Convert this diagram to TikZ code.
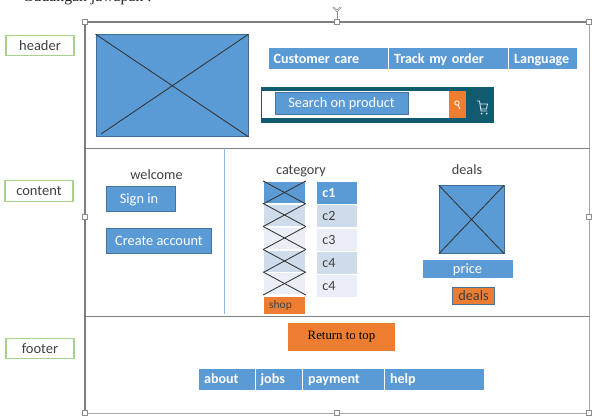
\documentclass[tikz,border=0pt]{standalone}
\usepackage{fontspec}
\setmainfont{Carlito}
\newfontfamily\bodyserif{Liberation Serif}
\usepackage{xcolor}
\usetikzlibrary{positioning}
\definecolor{wireblue}{HTML}{5B9BD5}
\definecolor{wireorange}{HTML}{ED7D31}
\definecolor{wireteal}{HTML}{115A70}
\definecolor{wiregreen}{HTML}{A9D18E}
\definecolor{wirepale}{HTML}{E9EEF7}
\definecolor{wiremid}{HTML}{CFDCEC}
\definecolor{wiregrey}{HTML}{7F7F7F}
\tikzset{
    px/.style={x=0.025cm,y=-0.025cm},
    sidetag/.style={draw=wiregreen,fill=white,line width=0.8pt,minimum width=1.7cm,minimum height=0.52cm,inner sep=0pt,text=black!75,font=\fontsize{10.3}{12}\selectfont},
    navcell/.style={fill=wireblue,draw=white,line width=0.3pt,inner ysep=0pt,inner xsep=0.14cm,outer sep=0pt,text=white,font=\bfseries\fontsize{10}{12}\selectfont,anchor=west,text width=#1,minimum height=0.55cm,text height=9pt,text depth=2.2pt,align=left},
    btn/.style={fill=wireblue,draw=wireblue!75!black,line width=0.4pt,inner sep=0pt,text=white,text height=7pt,text depth=0pt,font=\fontsize{10.2}{12}\selectfont},
    heading/.style={inner sep=0pt,text=black!75,font=\fontsize{10.1}{12}\selectfont},
    picbox/.style={fill=wireblue,draw=wireblue!70!black,line width=0.4pt,inner sep=0pt},
    cross/.style={draw=black!80,line width=0.6pt},
    handle/.style={draw=black!45,fill=white,line width=0.4pt,minimum size=0.13cm,inner sep=0pt},
    catcell/.style={draw=white,line width=0.4pt,inner sep=0pt,minimum width=1.02cm,minimum height=0.57cm,text=black!75,font=\fontsize{10}{12}\selectfont},
    thumb/.style={draw=white,line width=0.4pt,inner sep=0pt,minimum width=1.05cm,minimum height=0.56cm}
}
\begin{document}
\begin{tikzpicture}[px]
    \useasboundingbox (0,0) rectangle (592,415);

    % Page frame and the two separators
    \draw[black!35,line width=0.6pt] (589,22) -- (589,413) -- (85,413);
    \draw[wiregrey,line width=0.8pt] (85,22) -- (589,22);
    \draw[wiregrey,line width=1.2pt] (85,22) -- (85,413);
    \draw[wiregrey,line width=0.7pt] (85,148) -- (589,148);
    \draw[wiregrey,line width=0.9pt] (85,316.5) -- (589,316.5);
    \draw[wireblue!70,line width=0.6pt] (224.5,148) -- (224.5,314);

    % Resize handles and rotate grip
    \node[handle] (hnw) at (85,22) {};
    \node[handle] (hn) at (337,22) {};
    \node[handle] (hne) at (589,22) {};
    \node[handle] (hw) at (85,217) {};
    \node[handle] (he) at (589,217) {};
    \node[handle] (hsw) at (85,413) {};
    \node[handle] (hs) at (337,413) {};
    \node[handle] (hse) at (589,413) {};
    \coordinate (grip) at (337,12);
    \draw[black!45,line width=0.4pt] (hn) -- (grip);
    \draw[black!45,line width=0.4pt] (332.5,7) -- (grip) -- (341.5,7);
    \draw[black!45,line width=0.4pt] (334,7) -- (337,10) -- (340,7);

    % Cut-off line of text on top
    \node[anchor=base west,inner sep=0pt,font=\bodyserif\fontsize{11.2}{13}\selectfont,text=black!85] (caption) at (22,1) {Gudangan jawapan :};

    % Section tags
    \node[sidetag] (header) at (40,45.5) {header};
    \node[sidetag] (content) at (39,191) {content};
    \node[sidetag] (footer) at (40,348.5) {footer};

    % Logo
    \node[picbox,minimum width=3.81cm,minimum height=2.55cm] (logo) at (172,85.5) {};
    \draw[cross] (logo.north west) -- (logo.south east);
    \draw[cross] (logo.north east) -- (101,134);

    % Top navigation
    \node[navcell=2.72cm] (care) at (268,58.5) {Customer care};
    \node[navcell=2.72cm] (track) at (388.5,58.5) {Track my order};
    \node[navcell=1.44cm] (lang) at (508.5,58.5) {Language};

    % Search bar
    \node[fill=wireteal,minimum width=5.82cm,minimum height=0.92cm,inner sep=0pt] (bar) at (377.5,105) {};
    \node[fill=white,minimum width=4.675cm,minimum height=0.65cm,inner sep=0pt] (field) at (355.5,104.5) {};
    \node[btn,minimum width=3.32cm,minimum height=0.55cm] (search) at (341.5,103) {Search on product};
    \node[fill=wireorange,minimum width=0.42cm,minimum height=0.65cm,inner sep=0pt] (go) at (457.5,104.5) {};
    \draw[white,line width=0.6pt] (457,103) circle (2.2);
    \draw[white,line width=0.6pt] (458,105) -- (460,109);
    % Cart icon
    \draw[white!85!wireteal,line width=0.6pt] (477,101) -- (479.5,101) -- (481,111) -- (487,111) (480,104) -- (487.5,104) -- (486.5,109) -- (481,109);
    \fill[white!85!wireteal] (481.5,113.5) circle (1) (486.5,113.5) circle (1);

    % Welcome column
    \node[heading] (welcome) at (156.5,175) {welcome};
    \node[btn,minimum width=1.72cm,minimum height=0.62cm] (signin) at (141,199) {\hspace{-0.1cm}Sign in};
    \node[btn,minimum width=2.63cm,minimum height=0.62cm] (create) at (159,240.5) {Create account};

    % Category column
    \node[heading] (category) at (301,171) {category};
    \foreach \name/\ypos/\shade in {a/192.5/wireblue,b/215/wiremid,c/238/wirepale,d/261/wiremid,e/283.5/wirepale} {
        \node[thumb,fill=\shade] (thumb\name) at (284.5,\ypos) {};
        \draw[cross] (thumb\name.north west) -- (thumb\name.south east);
        \draw[cross] (thumb\name.south west) -- (thumb\name.north east);
    }
    \node[thumb,fill=wireorange,minimum height=0.45cm,text=black!75,font=\fontsize{8.2}{10}\selectfont] (shop) at (284.5,305) {\hspace{-0.2cm}shop};
    \node[catcell,fill=wireblue,text=white,font=\bfseries\fontsize{10}{12}\selectfont] (c1) at (336.5,192.5) {\hspace{-0.38cm}c1};
    \node[catcell,fill=wiremid] (c2) at (336.5,216) {\hspace{-0.38cm}c2};
    \node[catcell,fill=wirepale] (c3) at (336.5,239.5) {\hspace{-0.38cm}c3};
    \node[catcell,fill=wiremid] (c4) at (336.5,263) {\hspace{-0.38cm}c4};
    \node[catcell,fill=wirepale] (c5) at (336.5,286) {\hspace{-0.38cm}c4};

    % Deals column
    \node[heading] (dealshead) at (467,170) {deals};
    \node[picbox,minimum width=1.62cm,minimum height=1.7cm] (dealpic) at (471.5,219.5) {};
    \draw[cross] (dealpic.north west) -- (dealpic.south east);
    \draw[cross] (dealpic.north east) -- (dealpic.south west);
    \node[btn,minimum width=2.23cm,minimum height=0.43cm,draw=wireblue] (price) at (467.5,268.5) {price};
    \node[btn,fill=wireorange,minimum width=1.05cm,minimum height=0.43cm,text=black!75] (deals) at (473.5,296) {deals};

    % Footer
    \node[fill=wireorange,inner sep=0pt,minimum width=2.67cm,minimum height=0.7cm,font=\bodyserif\fontsize{9.1}{11}\selectfont] (top) at (341.5,337) {Return to top};
    \node[navcell=1.13cm] (about) at (198.5,379) {about};
    \node[navcell=0.91cm] (jobs) at (255,379) {jobs};
    \node[navcell=1.78cm] (payment) at (302.5,379) {payment};
    \node[navcell=2.21cm] (help) at (384.5,379) {help};
\end{tikzpicture}
\end{document}
